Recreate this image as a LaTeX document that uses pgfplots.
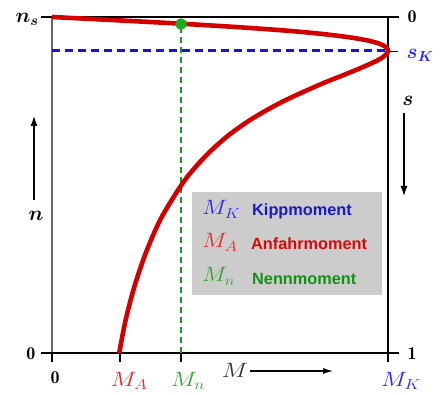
\documentclass[border=0pt]{standalone}
\usepackage{pgfplots}
\pgfplotsset{compat=1.18}
\usepackage{bm}
\usepackage{fontspec}
\setsansfont{Liberation Sans}
\usetikzlibrary{arrows.meta}
\definecolor{cred}{RGB}{212,0,0}
\definecolor{cblue}{RGB}{20,20,220}
\definecolor{cgreen}{RGB}{30,150,30}
\definecolor{cdot}{RGB}{30,170,30}
\definecolor{lred}{RGB}{235,40,40}
\definecolor{lblue}{RGB}{40,40,245}
\definecolor{lgreen}{RGB}{50,165,50}
\definecolor{tred}{RGB}{215,10,10}
\definecolor{tblue}{RGB}{25,25,200}
\definecolor{tgreen}{RGB}{20,145,20}
\definecolor{boxgray}{RGB}{204,204,204}
\newcommand{\fsa}{\fontsize{20}{22}\selectfont}
\newcommand{\fsb}{\fontsize{18}{20}\selectfont}
\newcommand{\fsm}{\fontsize{20}{22}\selectfont}
\newcommand{\fsc}{\fontsize{22}{24}\selectfont}
\newcommand{\fst}{\sffamily\bfseries\fontsize{16.3}{18}\selectfont}
\pgfplotstableread{
M n
0 1
0.0998 0.995
0.198 0.99
0.293 0.985
0.385 0.98
0.550 0.97
0.690 0.96
0.800 0.95
0.882 0.94
0.940 0.93
0.976 0.92
0.9945 0.91
1.0 0.90
0.9955 0.89
0.984 0.88
0.967 0.87
0.923 0.85
0.862 0.825
0.800 0.80
0.690 0.75
0.600 0.70
0.528 0.65
0.471 0.60
0.424 0.55
0.385 0.50
0.324 0.40
0.280 0.30
0.246 0.20
0.2195 0.10
0.200 0.0
}\curvetab
\begin{document}
\begin{tikzpicture}
\begin{scope}[x=1pt,y=-1pt,shift={(-52pt,353pt)}]
  \useasboundingbox (0,0) rectangle (442,394);
  \draw[line width=1.3pt, black!60] (52,17) -- (52,353);
  \draw[line width=1.1pt] (41,17) -- (399,17);
  \draw[line width=1.1pt] (41,353) -- (399,353);
  \draw[line width=1.1pt] (388,17) -- (388,353);
  \draw[line width=1.1pt] (52,353) -- (52,362);
  \draw[line width=1.1pt] (120,353) -- (120,362);
  \draw[line width=1.1pt] (181,353) -- (181,362);
  \draw[line width=1.1pt] (388,345) -- (388,362);
  \draw[line width=1.1pt] (388,51.7) -- (398,51.7);
\end{scope}
\begin{axis}[at={(0,0)},anchor=origin,width=336pt,height=336pt,scale only axis,
  xmin=0,xmax=1,ymin=0,ymax=1,hide axis,clip=false]
\addplot[cblue, line width=2.6pt, dash pattern=on 8pt off 5pt] coordinates {(0,0.9) (1,0.9)};
\addplot[cgreen, line width=2.8pt, dash pattern=on 6pt off 4pt] coordinates {(0.384,0) (0.384,0.979)};
\addplot[cred, line width=4.6pt, smooth, tension=0.5] table[x=M,y=n] {\curvetab};
\addplot[only marks, mark=*, mark size=5.5pt, color=cdot] coordinates {(0.384,0.979)};
\end{axis}
\begin{scope}[x=1pt,y=-1pt,shift={(-52pt,353pt)}]
  \fill[boxgray] (192,192) rectangle (382,295);
  \node[font=\fsa] at (27,19) {$\bm{n_s}$};
  \node[font=\fsa] at (36,216) {$\bm{n}$};
  \draw[line width=1.2pt, -{Latex[length=10pt,width=7pt]}] (34,200) -- (34,116);
  \node[font=\fsb] at (31,354) {$\mathbf{0}$};
  \node[font=\fsb] at (412,17) {$\mathbf{0}$};
  \node[font=\fsa, text=lblue] at (420,55) {$\bm{s_K}$};
  \node[font=\fsa] at (408,101) {$\bm{s}$};
  \draw[line width=1.2pt, -{Latex[length=10pt,width=7pt]}] (404,113) -- (404,196);
  \node[font=\fsb] at (412,354) {$\mathbf{1}$};
  \node[font=\fsb] at (55,378) {$\mathbf{0}$};
  \node[font=\fsm, text=lred, xscale=1.2] at (129,381) {$M_A$};
  \node[font=\fsm, text=lgreen, xscale=1.2] at (188,381) {$M_n$};
  \node[font=\fsm, text=lblue, xscale=1.2] at (401,381) {$M_K$};
  \node[font=\fsm, text=black!80, xscale=1.2] at (235,370) {$M$};
  \draw[line width=1.1pt, -{Latex[length=10pt,width=6pt]}] (250,371) -- (333,371);
  \node[font=\fsc, text=lblue, anchor=base west, inner sep=0pt, xscale=1.15] at (202,215) {$M_K$};
  \node[font=\fst, text=tblue, anchor=base west, inner sep=0pt] at (252,216) {Kippmoment};
  \node[font=\fsc, text=lred, anchor=base west, inner sep=0pt, xscale=1.15] at (202,248) {$M_A$};
  \node[font=\fst, text=tred, anchor=base west, inner sep=0pt] at (251,250) {Anfahrmoment};
  \node[font=\fsc, text=lgreen, anchor=base west, inner sep=0pt, xscale=1.15] at (202,282) {$M_n$};
  \node[font=\fst, text=tgreen, anchor=base west, inner sep=0pt] at (252,284) {Nennmoment};
\end{scope}
\end{tikzpicture}
\end{document}
